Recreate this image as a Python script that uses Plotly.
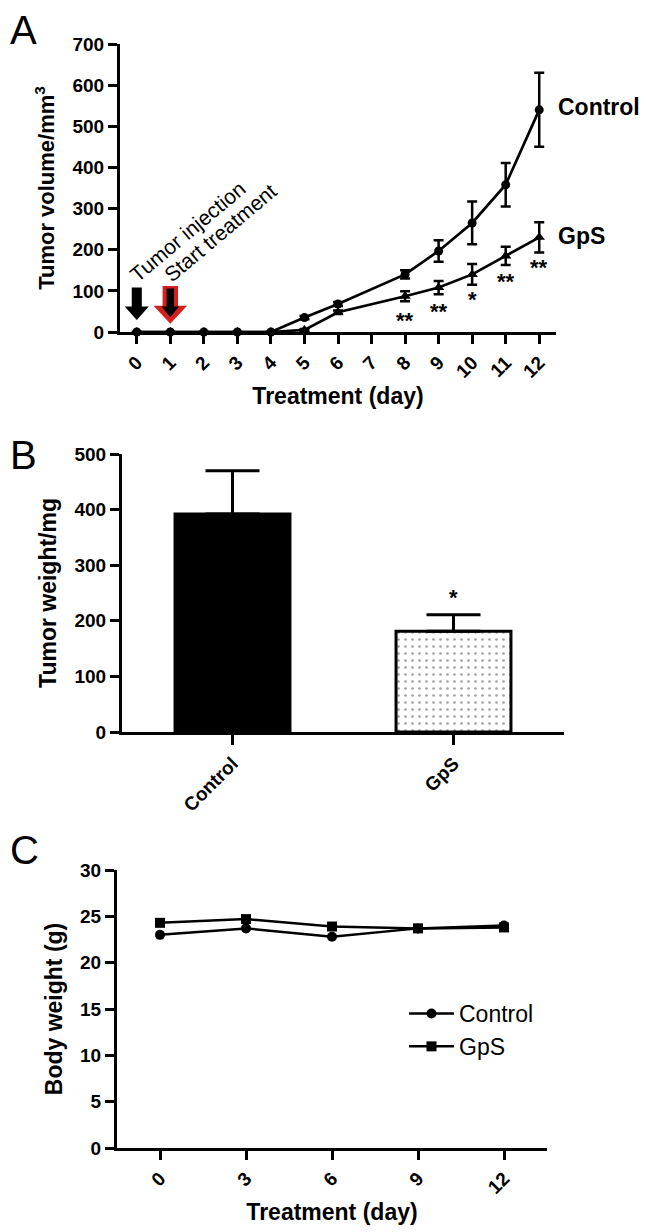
import plotly.graph_objects as go

# ---------------- Panel A: tumor volume ----------------
days_a = [0, 1, 2, 3, 4, 5, 6, 8, 9, 10, 11, 12]
ctrl_vol = [0, 0, 0, 0, 0, 35, 68, 140, 197, 265, 358, 540]
ctrl_vol_err = [0, 0, 0, 0, 0, 4, 5, 10, 26, 52, 53, 90]
gps_vol = [0, 0, 0, 0, 0, 5, 48, 87, 108, 140, 185, 230]
gps_vol_err = [0, 0, 0, 0, 0, 2, 4, 12, 16, 25, 22, 37]
day_ticks = list(range(13))
sig_days = [8, 9, 10, 11, 12]
sig_labels = ["**", "**", "*", "**", "**"]
sig_y = [41, 62, 90, 135, 168]
arrow_days = [0, 1]
arrow_labels = ["Tumor injection", "Start treatment"]
series_labels = ["Control", "GpS"]
series_label_y = [546, 234]

# ---------------- Panel B: tumor weight ----------------
groups = ["Control", "GpS"]
tumor_weight = [392, 181]
tumor_weight_err = [78, 30]

# ---------------- Panel C: body weight ----------------
days_c = [0, 3, 6, 9, 12]
ctrl_bw = [23.0, 23.7, 22.8, 23.7, 24.0]
gps_bw = [24.3, 24.7, 23.9, 23.7, 23.8]

FONT = "Liberation Sans"
# the page body adds an 8px margin, so the figure is 8px smaller and shifted
OFF = 8
W, H = 648 - OFF, 1232 - OFF


def px_x(a, b):
    return [(a - OFF) / W, (b - OFF) / W]


def px_y(top, bottom):
    return [1 - (bottom - OFF) / H, 1 - (top - OFF) / H]


bold = dict(family=FONT, size=19, color="black", weight="bold")
title_font = dict(family=FONT, size=23, color="black", weight="bold")

axis_common = dict(
    showline=True, linecolor="black", linewidth=3, mirror=False,
    ticks="outside", ticklen=9, tickwidth=3, tickcolor="black",
    showgrid=False, zeroline=False, tickfont=bold, automargin=False,
)

fig = go.Figure()

# Panel A traces
fig.add_trace(go.Scatter(
    x=days_a, y=gps_vol, mode="lines+markers", name="GpS",
    line=dict(color="black", width=2.7),
    marker=dict(symbol="triangle-up", size=10, color="black"),
    error_y=dict(type="data", array=gps_vol_err, color="black", thickness=2.5, width=5),
    cliponaxis=False, showlegend=False, xaxis="x", yaxis="y"))
fig.add_trace(go.Scatter(
    x=days_a, y=ctrl_vol, mode="lines+markers", name="Control",
    line=dict(color="black", width=2.7),
    marker=dict(symbol="circle", size=9, color="black"),
    error_y=dict(type="data", array=ctrl_vol_err, color="black", thickness=2.5, width=5),
    cliponaxis=False, showlegend=False, xaxis="x", yaxis="y"))

# Panel B trace
fig.add_trace(go.Bar(
    x=groups, y=tumor_weight, width=0.52,
    marker=dict(color=["black", "white"], line=dict(color="black", width=3),
                pattern=dict(shape=["", "."], fgcolor="#555", size=7, solidity=0.12,
                             fillmode="overlay")),
    error_y=dict(type="data", symmetric=False, array=tumor_weight_err,
                 arrayminus=[0, 0], color="black", thickness=3, width=27),
    showlegend=False, xaxis="x2", yaxis="y2"))

# Panel C traces
fig.add_trace(go.Scatter(
    x=days_c, y=ctrl_bw, mode="lines+markers", name="Control",
    line=dict(color="black", width=2.5),
    marker=dict(symbol="circle", size=10, color="black"),
    xaxis="x3", yaxis="y3"))
fig.add_trace(go.Scatter(
    x=days_c, y=gps_bw, mode="lines+markers", name="GpS",
    line=dict(color="black", width=2.5),
    marker=dict(symbol="square", size=10, color="black"),
    xaxis="x3", yaxis="y3"))

# Axes
fig.update_layout(
    xaxis=dict(axis_common, domain=px_x(120, 556), range=[-0.5, 12.5], tickvals=day_ticks,
               tickangle=-45, anchor="y",
               title=dict(text="Treatment (day)", font=title_font, standoff=8)),
    yaxis=dict(axis_common, domain=px_y(44, 332), range=[0, 700], dtick=100, anchor="x",
               title=dict(text="Tumor volume/mm<sup>3</sup>",
                          font=dict(title_font, size=22), standoff=12)),
    xaxis2=dict(axis_common, domain=px_x(122, 564), range=[-0.5, 1.5], tickangle=-45,
                anchor="y2", ticklen=10),
    yaxis2=dict(axis_common, domain=px_y(454, 732), range=[0, 500], dtick=100, anchor="x2",
                title=dict(text="Tumor weight/mg", font=title_font, standoff=12)),
    xaxis3=dict(axis_common, domain=px_x(117, 547), range=[-1.5, 13.5], tickvals=days_c,
                tickangle=-45, anchor="y3",
                title=dict(text="Treatment (day)", font=title_font, standoff=8)),
    yaxis3=dict(axis_common, domain=px_y(870, 1148), range=[0, 30], dtick=5, anchor="x3",
                title=dict(text="Body weight (g)", font=title_font, standoff=12)),
)


def arrow_path(xc, top, neck, tip, shaft_hw, head_hw):
    return (f"M {xc - shaft_hw} {top} L {xc + shaft_hw} {top} L {xc + shaft_hw} {neck} "
            f"L {xc + head_hw} {neck} L {xc} {tip} L {xc - head_hw} {neck} "
            f"L {xc - shaft_hw} {neck} Z")


shapes = [
    dict(type="path", xref="x", yref="y", path=arrow_path(arrow_days[0], 108, 62, 29, 0.15, 0.36),
         fillcolor="black", line=dict(width=0)),
    dict(type="path", xref="x", yref="y", path=arrow_path(arrow_days[1], 112, 64, 20, 0.23, 0.50),
         fillcolor="#d62020", line=dict(width=0)),
    dict(type="path", xref="x", yref="y", path=arrow_path(arrow_days[1], 106, 62, 36, 0.11, 0.26),
         fillcolor="black", line=dict(width=0)),
]

annotations = []
for d, lab, y in zip(sig_days, sig_labels, sig_y):
    annotations.append(dict(x=d, y=y, xref="x", yref="y", text=lab, showarrow=False,
                            font=dict(family=FONT, size=22, color="black", weight="bold"),
                            yshift=-5))
for lab, y in zip(series_labels, series_label_y):
    annotations.append(dict(x=days_a[-1], y=y, xref="x", yref="y", text=lab, showarrow=False,
                            xanchor="left", xshift=17, font=title_font))
annotations.append(dict(x=arrow_days[0] + 1.51, y=245, xref="x", yref="y", text=arrow_labels[0],
                        showarrow=False, textangle=-40,
                        font=dict(family=FONT, size=21, color="black")))
annotations.append(dict(x=arrow_days[1] + 1.5, y=241, xref="x", yref="y", text=arrow_labels[1],
                        showarrow=False, textangle=-40,
                        font=dict(family=FONT, size=21, color="black")))
annotations.append(dict(x=groups[1], y=tumor_weight[1] + tumor_weight_err[1] + 40, xref="x2",
                        yref="y2", text="*", showarrow=False, yshift=-5,
                        font=dict(family=FONT, size=22, color="black", weight="bold")))
for letter, ty in zip(["A", "B", "C"], [30, 455, 850]):
    annotations.append(dict(x=0, y=1 - (ty - OFF) / H, xref="paper", yref="paper",
                            text=letter, showarrow=False, xanchor="left", yanchor="middle",
                            font=dict(family=FONT, size=40, color="black")))

fig.update_layout(
    width=W, height=H, margin=dict(l=0, r=0, t=0, b=0, autoexpand=False),
    paper_bgcolor="white", plot_bgcolor="white",
    shapes=shapes, annotations=annotations,
    legend=dict(x=(404 - OFF) / W, y=1 - (992 - OFF) / H, xanchor="left", yanchor="top",
                font=dict(family=FONT, size=23, color="black"),
                bgcolor="rgba(0,0,0,0)", tracegroupgap=0, itemwidth=45),
    showlegend=True,
)

fig.write_html("out.html")
